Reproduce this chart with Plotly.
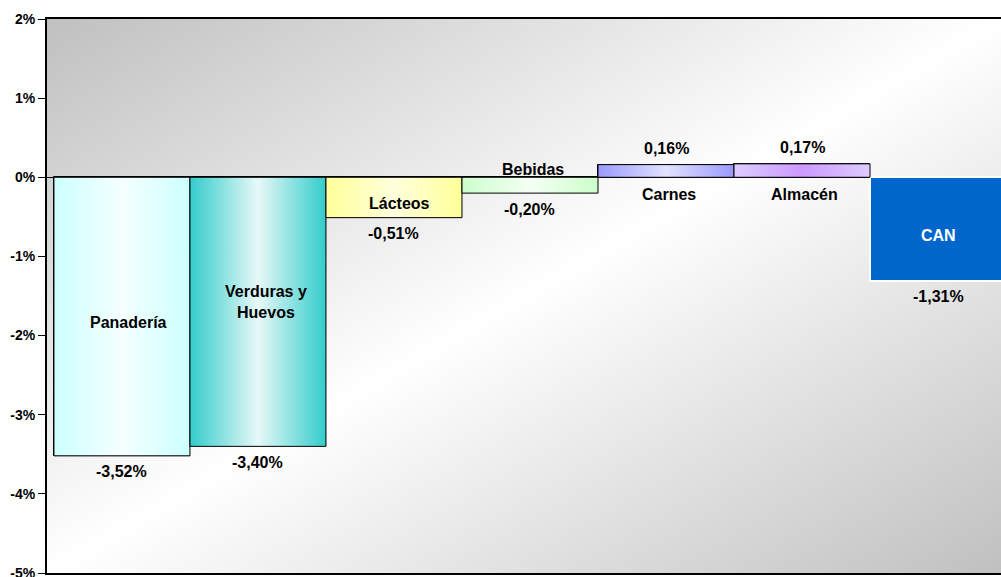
import base64
import plotly.graph_objects as go

# ---- data ----
categories = ["Panadería", "Verduras y<br>Huevos", "Lácteos", "Bebidas", "Carnes", "Almacén", "CAN"]
values = [-3.52, -3.40, -0.51, -0.20, 0.16, 0.17, -1.31]
y_tickvals = [2, 1, 0, -1, -2, -3, -4, -5]
y_ticktext = ["2%", "1%", "0%", "-1%", "-2%", "-3%", "-4%", "-5%"]

# ---- styles ----
edge_colors = ["#CCFFFF", "#33CCCC", "#FFFF99", "#CCFFCC", "#9999FF", "#DDCCFF", "#0066CC"]
center_colors = ["#F5FFFF", "#E8F8F8", "#FFFFDD", "#F4FFF4", "#E2E2FF", "#CC99FF", None]
name_shift = [(7, -6), (8, 10), (6, -6), (3, 8), (3, -17), (2, -17), (0, -6)]  # px (x, y) for category labels
value_gap = 16
FONT = "Arial, Liberation Sans, sans-serif"

fig = go.Figure()

xs = list(range(len(categories)))
fig.add_trace(go.Bar(
    x=xs, y=values, width=1,
    marker=dict(color=edge_colors,
                line=dict(color=["black"] * 6 + ["white"], width=[1] * 6 + [2])),
    hoverinfo="skip", showlegend=False,
))

for i, (v, c1, c2) in enumerate(zip(values, edge_colors, center_colors)):
    if c2 is None:
        continue
    fig.add_trace(go.Scatter(
        x=[i - 0.5, i + 0.5, i + 0.5, i - 0.5, i - 0.5],
        y=[0, 0, v, v, 0],
        mode="lines", fill="toself",
        fillgradient=dict(type="horizontal", colorscale=[[0, c1], [0.5, c2], [1, c1]]),
        line=dict(color="black", width=1),
        hoverinfo="skip", showlegend=False,
    ))

annotations = []
for i, (name, v) in enumerate(zip(categories, values)):
    big = abs(v) > 0.4
    dx, dy = name_shift[i]
    ny = v / 2 if big else 0
    annotations.append(dict(
        x=i, y=ny, xref="x", yref="y", text=name, showarrow=False,
        xshift=dx, yshift=dy, yanchor="middle",
        font=dict(family=FONT, size=16, weight="bold",
                  color="white" if name == "CAN" else "black"),
    ))
    label = f"{v:.2f}".replace(".", ",") + "%"
    annotations.append(dict(
        x=i, y=v, xref="x", yref="y", text=label, showarrow=False,
        yshift=value_gap if v > 0 else -value_gap, yanchor="middle",
        font=dict(family=FONT, size=16, weight="bold", color="black"),
    ))

svg = ('<svg xmlns="http://www.w3.org/2000/svg" width="954" height="554" preserveAspectRatio="none">'
       '<defs><linearGradient id="g" x1="0" y1="0" x2="1" y2="1">'
       '<stop offset="0" stop-color="#c0c0c0"/><stop offset="0.5" stop-color="#ffffff"/>'
       '<stop offset="1" stop-color="#c0c0c0"/></linearGradient></defs>'
       '<rect width="100%" height="100%" fill="url(#g)"/></svg>')
src = "data:image/svg+xml;base64," + base64.b64encode(svg.encode()).decode()

fig.update_layout(
    width=1001, height=577,
    margin=dict(l=47, r=0, t=19, b=4),
    paper_bgcolor="white", plot_bgcolor="rgba(0,0,0,0)",
    bargap=0, showlegend=False,
    annotations=annotations,
    images=[dict(source=src, xref="paper", yref="paper", x=0, y=1, sizex=1, sizey=1,
                 xanchor="left", yanchor="top", sizing="stretch", layer="below")],
    xaxis=dict(range=[-0.551, 6.463], showticklabels=False, ticks="", showgrid=False,
               zeroline=False, showline=True, mirror=True, linecolor="black", linewidth=2,
               automargin=False),
    yaxis=dict(range=[-5, 2], tickvals=y_tickvals, ticktext=y_ticktext, showgrid=False,
               zeroline=True, zerolinecolor="black", zerolinewidth=1,
               showline=True, linecolor="black", linewidth=2,
               ticks="outside", ticklen=7, tickcolor="black", tickwidth=1,
               ticklabeloverflow="allow", automargin=False,
               tickfont=dict(family=FONT, size=14, weight="bold", color="black")),
)

fig.write_html("out.html", config={"displayModeBar": False},
               post_script="document.body.style.margin='0';")
